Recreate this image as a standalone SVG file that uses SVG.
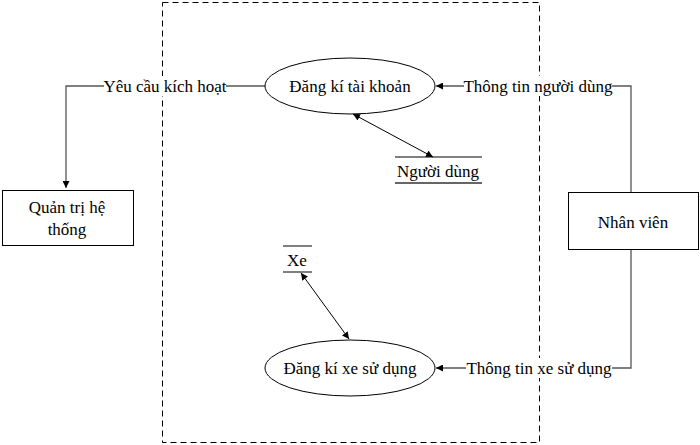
<svg xmlns="http://www.w3.org/2000/svg" width="700" height="445" viewBox="0 0 700 445">
<defs>
<marker id="ah" viewBox="0 0 10 10" refX="10" refY="5" markerWidth="7" markerHeight="7" orient="auto-start-reverse" markerUnits="userSpaceOnUse"><path d="M0,0 L10,5 L0,10 z" fill="#000"/></marker>
</defs>
<style>
text{font-family:"Liberation Serif","Times New Roman",serif;font-size:17px;fill:#000;text-anchor:middle}
.n{fill:#fff;stroke:#000;stroke-width:1}
.c{fill:none;stroke:#555;stroke-width:1.3}
.d{fill:none;stroke:#000;stroke-width:1}
</style>
<rect x="0" y="0" width="700" height="445" fill="#fff"/>
<rect x="162.5" y="2.5" width="377" height="440" fill="none" stroke="#000" stroke-width="1" stroke-dasharray="6,4"/>
<g id="connectors">
<polyline class="c" points="265,86 66,86 66,188" marker-end="url(#ah)"/>
<polyline class="c" points="631,192 631,86 436,86" marker-end="url(#ah)"/>
<polyline class="c" points="631,250 631,368 436,368" marker-end="url(#ah)"/>
<line class="d" x1="353" y1="114" x2="433" y2="157" marker-start="url(#ah)" marker-end="url(#ah)"/>
<line class="d" x1="301" y1="273" x2="349" y2="339" marker-start="url(#ah)" marker-end="url(#ah)"/>
<rect x="104" y="76" width="122" height="20" fill="#fff"/>
<text x="165" y="92">Yêu cầu kích hoạt</text>
<rect x="464" y="76" width="148" height="20" fill="#fff"/>
<text x="538" y="92">Thông tin người dùng</text>
<rect x="466" y="358" width="146" height="20" fill="#fff"/>
<text x="539" y="374">Thông tin xe sử dụng</text>
</g>
<g id="dangki-taikhoan">
<ellipse class="n" cx="350" cy="86" rx="85" ry="28"/>
<text x="350" y="92">Đăng kí tài khoản</text>
</g>
<g id="dangki-xe">
<ellipse class="n" cx="350" cy="368" rx="85" ry="28"/>
<text x="350" y="374">Đăng kí xe sử dụng</text>
</g>
<g id="nguoidung">
<line x1="395" y1="157" x2="482" y2="157" stroke="#000" stroke-width="1"/>
<line x1="395" y1="183" x2="482" y2="183" stroke="#666" stroke-width="2"/>
<text x="438" y="177">Người dùng</text>
</g>
<g id="xe">
<line x1="283" y1="246" x2="312" y2="246" stroke="#000" stroke-width="1"/>
<line x1="283" y1="272" x2="312" y2="272" stroke="#000" stroke-width="1"/>
<text x="297" y="266">Xe</text>
</g>
<g id="quantri">
<rect class="n" x="2.5" y="190.5" width="131" height="55"/>
<text x="67" y="213">Quản trị hệ</text>
<text x="67" y="235">thống</text>
</g>
<g id="nhanvien">
<rect class="n" x="568.5" y="192.5" width="130" height="57"/>
<text x="633" y="228">Nhân viên</text>
</g>
</svg>
